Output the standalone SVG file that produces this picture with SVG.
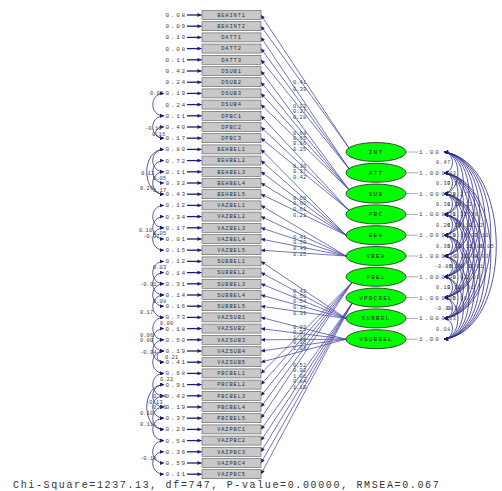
<svg xmlns="http://www.w3.org/2000/svg" xmlns:xlink="http://www.w3.org/1999/xlink" width="502" height="491" viewBox="0 0 502 491">
<defs>
<marker id="ah" viewBox="0 0 10 10" refX="10" refY="5" markerWidth="5.5" markerHeight="4" orient="auto-start-reverse" markerUnits="userSpaceOnUse"><path d="M0,0 L10,5 L0,10 z" fill="#1c1c74"/></marker>
<path id="s1" d="M444,0 C455.3,1 455.3,19.8 444,20.8"/>
<path id="s2" d="M444,0 C462.6,2 462.6,39.6 444,41.6"/>
<path id="s3" d="M444,0 C469.9,3 469.9,59.4 444,62.4"/>
<path id="s4" d="M444,0 C477.2,4 477.2,79.2 444,83.2"/>
<path id="s5" d="M444,0 C484.5,5 484.5,99 444,104"/>
<path id="s6" d="M444,0 C491.8,6 491.8,118.8 444,124.8"/>
<path id="s7" d="M444,0 C499.1,7 499.1,138.6 444,145.6"/>
<path id="s8" d="M444,0 C506.4,8 506.4,158.4 444,166.4"/>
<path id="s9" d="M444,0 C513.7,9 513.7,178.2 444,187.2"/>
</defs>
<style>
.bx{fill:#c8c8c8;stroke:#5a5a5a;stroke-width:0.6}
.bt{font-family:"Liberation Mono",monospace;font-size:5.5px;letter-spacing:0.8px;fill:#333;text-anchor:middle}
.lv{fill:#00ff00;stroke:#222;stroke-width:0.8}
.lt{font-family:"Liberation Mono",monospace;font-size:6px;letter-spacing:1.2px;fill:#222;text-anchor:middle}
.ld{stroke:#4646a6;stroke-width:0.75;fill:none;marker-end:url(#ah)}
.er{stroke:#1c1c7c;stroke-width:1.3;marker-end:url(#ah)}
.ev{font-family:"Liberation Mono",monospace;font-size:6px;letter-spacing:1.8px;fill:#444;text-anchor:end}
.nl{font-family:"Liberation Mono",monospace;font-size:5.5px;fill:#444}
.cv{stroke:#2c2c8e;stroke-width:0.8;fill:none;marker-start:url(#ah);marker-end:url(#ah)}
.cl{font-family:"Liberation Mono",monospace;font-size:5.2px;letter-spacing:0.6px;fill:#444;text-anchor:middle}
.vl{stroke:#777;stroke-width:0.6}
.ft{font-family:"Liberation Mono",monospace;font-size:10px;letter-spacing:1.63px;fill:#333}
</style>
<rect width="502" height="491" fill="#ffffff"/>

<g id="connectors">
<path class="ld" d="M349,148 L261,15"/>
<path class="ld" d="M349,148 L261,26.2"/>
<path class="ld" d="M349,168.8 L261,37.4"/>
<path class="ld" d="M349,168.8 L261,48.6"/>
<path class="ld" d="M349,168.8 L261,59.8"/>
<path class="ld" d="M349,189.6 L261,71"/>
<path class="ld" d="M349,189.6 L261,82.2"/>
<path class="ld" d="M349,189.6 L261,93.4"/>
<path class="ld" d="M349,189.6 L261,104.6"/>
<path class="ld" d="M349,210.4 L261,115.8"/>
<path class="ld" d="M349,210.4 L261,127"/>
<path class="ld" d="M349,210.4 L261,138.2"/>
<path class="ld" d="M346,235.2 L261,149.4"/>
<path class="ld" d="M346,235.2 L261,160.6"/>
<path class="ld" d="M346,235.2 L261,171.8"/>
<path class="ld" d="M346,235.2 L261,183"/>
<path class="ld" d="M346,235.2 L261,194.2"/>
<path class="ld" d="M346,256 L261,205.4"/>
<path class="ld" d="M346,256 L261,216.6"/>
<path class="ld" d="M346,256 L261,227.8"/>
<path class="ld" d="M346,256 L261,239"/>
<path class="ld" d="M346,256 L261,250.2"/>
<path class="ld" d="M346,318.4 L261,261.4"/>
<path class="ld" d="M346,318.4 L261,272.6"/>
<path class="ld" d="M346,318.4 L261,283.8"/>
<path class="ld" d="M346,318.4 L261,295"/>
<path class="ld" d="M346,318.4 L261,306.2"/>
<path class="ld" d="M346,339.2 L261,317.4"/>
<path class="ld" d="M346,339.2 L261,328.6"/>
<path class="ld" d="M346,339.2 L261,339.8"/>
<path class="ld" d="M346,339.2 L261,351"/>
<path class="ld" d="M346,339.2 L261,362.2"/>
<path class="ld" d="M352,282.5 L261,373.4"/>
<path class="ld" d="M352,282.5 L261,384.6"/>
<path class="ld" d="M352,282.5 L261,395.8"/>
<path class="ld" d="M352,282.5 L261,407"/>
<path class="ld" d="M352,282.5 L261,418.2"/>
<path class="ld" d="M352,303.3 L261,429.4"/>
<path class="ld" d="M352,303.3 L261,440.6"/>
<path class="ld" d="M352,303.3 L261,451.8"/>
<path class="ld" d="M352,303.3 L261,463"/>
<path class="ld" d="M352,303.3 L261,474.2"/>
<text class="nl" x="293" y="84">0.41</text>
<text class="nl" x="293" y="91">0.39</text>
<text class="nl" x="293" y="108">0.22</text>
<text class="nl" x="293" y="113">0.27</text>
<text class="nl" x="293" y="119">0.28</text>
<text class="nl" x="293" y="135">0.64</text>
<text class="nl" x="293" y="140">0.65</text>
<text class="nl" x="293" y="145">0.66</text>
<text class="nl" x="293" y="151">0.25</text>
<text class="nl" x="293" y="168">0.36</text>
<text class="nl" x="293" y="173">0.37</text>
<text class="nl" x="293" y="179">0.42</text>
<text class="nl" x="293" y="200">0.60</text>
<text class="nl" x="293" y="205">0.60</text>
<text class="nl" x="293" y="211">0.61</text>
<text class="nl" x="293" y="217">0.21</text>
<text class="nl" x="293" y="239">0.41</text>
<text class="nl" x="293" y="244">0.50</text>
<text class="nl" x="293" y="250">0.49</text>
<text class="nl" x="293" y="256">0.25</text>
<text class="nl" x="293" y="293">0.42</text>
<text class="nl" x="293" y="298">0.50</text>
<text class="nl" x="293" y="303">0.54</text>
<text class="nl" x="293" y="309">0.35</text>
<text class="nl" x="293" y="315">0.39</text>
<text class="nl" x="293" y="329">0.93</text>
<text class="nl" x="293" y="334">0.97</text>
<text class="nl" x="293" y="339">1.12</text>
<text class="nl" x="293" y="344">0.95</text>
<text class="nl" x="293" y="350">1.03</text>
<text class="nl" x="293" y="367">0.52</text>
<text class="nl" x="293" y="372">0.92</text>
<text class="nl" x="293" y="378">1.01</text>
<text class="nl" x="293" y="383">0.84</text>
<text class="nl" x="293" y="389">1.10</text>

<g transform="translate(0,15)"><line class="er" x1="187" x2="201.5"/><text class="ev" x="187" y="2">0.08</text></g>
<g transform="translate(0,26.2)"><line class="er" x1="187" x2="201.5"/><text class="ev" x="187" y="2">0.09</text></g>
<g transform="translate(0,37.4)"><line class="er" x1="187" x2="201.5"/><text class="ev" x="187" y="2">0.10</text></g>
<g transform="translate(0,48.6)"><line class="er" x1="187" x2="201.5"/><text class="ev" x="187" y="2">0.08</text></g>
<g transform="translate(0,59.8)"><line class="er" x1="187" x2="201.5"/><text class="ev" x="187" y="2">0.11</text></g>
<g transform="translate(0,71)"><line class="er" x1="187" x2="201.5"/><text class="ev" x="187" y="2">0.42</text></g>
<g transform="translate(0,82.2)"><line class="er" x1="187" x2="201.5"/><text class="ev" x="187" y="2">0.24</text></g>
<g transform="translate(0,93.4)"><line class="er" x1="187" x2="201.5"/><text class="ev" x="187" y="2">0.19</text></g>
<g transform="translate(0,104.6)"><line class="er" x1="187" x2="201.5"/><text class="ev" x="187" y="2">0.24</text></g>
<g transform="translate(0,115.8)"><line class="er" x1="187" x2="201.5"/><text class="ev" x="187" y="2">0.11</text></g>
<g transform="translate(0,127)"><line class="er" x1="187" x2="201.5"/><text class="ev" x="187" y="2">0.40</text></g>
<g transform="translate(0,138.2)"><line class="er" x1="187" x2="201.5"/><text class="ev" x="187" y="2">0.17</text></g>
<g transform="translate(0,149.4)"><line class="er" x1="187" x2="201.5"/><text class="ev" x="187" y="2">0.80</text></g>
<g transform="translate(0,160.6)"><line class="er" x1="187" x2="201.5"/><text class="ev" x="187" y="2">0.72</text></g>
<g transform="translate(0,171.8)"><line class="er" x1="187" x2="201.5"/><text class="ev" x="187" y="2">0.11</text></g>
<g transform="translate(0,183)"><line class="er" x1="187" x2="201.5"/><text class="ev" x="187" y="2">0.32</text></g>
<g transform="translate(0,194.2)"><line class="er" x1="187" x2="201.5"/><text class="ev" x="187" y="2">0.43</text></g>
<g transform="translate(0,205.4)"><line class="er" x1="187" x2="201.5"/><text class="ev" x="187" y="2">0.12</text></g>
<g transform="translate(0,216.6)"><line class="er" x1="187" x2="201.5"/><text class="ev" x="187" y="2">0.34</text></g>
<g transform="translate(0,227.8)"><line class="er" x1="187" x2="201.5"/><text class="ev" x="187" y="2">0.17</text></g>
<g transform="translate(0,239)"><line class="er" x1="187" x2="201.5"/><text class="ev" x="187" y="2">0.01</text></g>
<g transform="translate(0,250.2)"><line class="er" x1="187" x2="201.5"/><text class="ev" x="187" y="2">0.15</text></g>
<g transform="translate(0,261.4)"><line class="er" x1="187" x2="201.5"/><text class="ev" x="187" y="2">0.12</text></g>
<g transform="translate(0,272.6)"><line class="er" x1="187" x2="201.5"/><text class="ev" x="187" y="2">0.14</text></g>
<g transform="translate(0,283.8)"><line class="er" x1="187" x2="201.5"/><text class="ev" x="187" y="2">0.31</text></g>
<g transform="translate(0,295)"><line class="er" x1="187" x2="201.5"/><text class="ev" x="187" y="2">0.14</text></g>
<g transform="translate(0,306.2)"><line class="er" x1="187" x2="201.5"/><text class="ev" x="187" y="2">0.16</text></g>
<g transform="translate(0,317.4)"><line class="er" x1="187" x2="201.5"/><text class="ev" x="187" y="2">0.73</text></g>
<g transform="translate(0,328.6)"><line class="er" x1="187" x2="201.5"/><text class="ev" x="187" y="2">0.18</text></g>
<g transform="translate(0,339.8)"><line class="er" x1="187" x2="201.5"/><text class="ev" x="187" y="2">0.50</text></g>
<g transform="translate(0,351)"><line class="er" x1="187" x2="201.5"/><text class="ev" x="187" y="2">0.19</text></g>
<g transform="translate(0,362.2)"><line class="er" x1="187" x2="201.5"/><text class="ev" x="187" y="2">0.41</text></g>
<g transform="translate(0,373.4)"><line class="er" x1="187" x2="201.5"/><text class="ev" x="187" y="2">0.68</text></g>
<g transform="translate(0,384.6)"><line class="er" x1="187" x2="201.5"/><text class="ev" x="187" y="2">0.91</text></g>
<g transform="translate(0,395.8)"><line class="er" x1="187" x2="201.5"/><text class="ev" x="187" y="2">0.42</text></g>
<g transform="translate(0,407)"><line class="er" x1="187" x2="201.5"/><text class="ev" x="187" y="2">0.19</text></g>
<g transform="translate(0,418.2)"><line class="er" x1="187" x2="201.5"/><text class="ev" x="187" y="2">0.37</text></g>
<g transform="translate(0,429.4)"><line class="er" x1="187" x2="201.5"/><text class="ev" x="187" y="2">0.29</text></g>
<g transform="translate(0,440.6)"><line class="er" x1="187" x2="201.5"/><text class="ev" x="187" y="2">0.54</text></g>
<g transform="translate(0,451.8)"><line class="er" x1="187" x2="201.5"/><text class="ev" x="187" y="2">0.36</text></g>
<g transform="translate(0,463)"><line class="er" x1="187" x2="201.5"/><text class="ev" x="187" y="2">0.59</text></g>
<g transform="translate(0,474.2)"><line class="er" x1="187" x2="201.5"/><text class="ev" x="187" y="2">0.11</text></g>

<path class="cv" d="M164,93.4 C149,93.4 149,115.8 164,115.8"/>
<path class="cv" d="M164,115.8 C149,115.8 149,138.2 164,138.2"/>
<path class="cv" d="M164,127 C153,127 153,138.2 164,138.2"/>
<path class="cv" d="M164,149.4 C149,149.4 149,171.8 164,171.8"/>
<path class="cv" d="M164,160.6 C149,160.6 149,183 164,183"/>
<path class="cv" d="M164,149.4 C141,149.4 141,194.2 164,194.2"/>
<path class="cv" d="M164,171.8 C149,171.8 149,194.2 164,194.2"/>
<path class="cv" d="M164,205.4 C149,205.4 149,227.8 164,227.8"/>
<path class="cv" d="M164,216.6 C149,216.6 149,239 164,239"/>
<path class="cv" d="M164,227.8 C149,227.8 149,250.2 164,250.2"/>
<path class="cv" d="M164,261.4 C149,261.4 149,283.8 164,283.8"/>
<path class="cv" d="M164,272.6 C149,272.6 149,295 164,295"/>
<path class="cv" d="M164,283.8 C149,283.8 149,306.2 164,306.2"/>
<path class="cv" d="M164,295 C149,295 149,317.4 164,317.4"/>
<path class="cv" d="M164,317.4 C149,317.4 149,339.8 164,339.8"/>
<path class="cv" d="M164,328.6 C149,328.6 149,351 164,351"/>
<path class="cv" d="M164,339.8 C149,339.8 149,362.2 164,362.2"/>
<path class="cv" d="M164,351 C149,351 149,373.4 164,373.4"/>
<path class="cv" d="M164,351 C155,351 155,362.2 164,362.2"/>
<path class="cv" d="M164,373.4 C149,373.4 149,395.8 164,395.8"/>
<path class="cv" d="M164,384.6 C149,384.6 149,407 164,407"/>
<path class="cv" d="M164,395.8 C149,395.8 149,418.2 164,418.2"/>
<path class="cv" d="M164,384.6 C141,384.6 141,429.4 164,429.4"/>
<path class="cv" d="M164,407 C149,407 149,429.4 164,429.4"/>
<path class="cv" d="M164,418.2 C149,418.2 149,440.6 164,440.6"/>
<path class="cv" d="M164,440.6 C149,440.6 149,463 164,463"/>
<path class="cv" d="M164,451.8 C149,451.8 149,474.2 164,474.2"/>
<text class="nl" x="150" y="95">0.05</text>
<text class="nl" x="145" y="130">-0.16</text>
<text class="nl" x="152" y="136">0.16</text>
<text class="nl" x="141" y="175">0.12</text>
<text class="nl" x="153" y="180">0.05</text>
<text class="nl" x="140" y="190">0.29</text>
<text class="nl" x="153" y="192">0.17</text>
<text class="nl" x="139" y="232">0.10</text>
<text class="nl" x="143" y="238">-0.07</text>
<text class="nl" x="153" y="235">0.05</text>
<text class="nl" x="153" y="269">0.03</text>
<text class="nl" x="140" y="286">-0.01</text>
<text class="nl" x="153" y="303">0.08</text>
<text class="nl" x="140" y="314">0.17</text>
<text class="nl" x="160" y="325">0.00</text>
<text class="nl" x="140" y="337">0.06</text>
<text class="nl" x="140" y="342">0.00</text>
<text class="nl" x="140" y="354">-0.04</text>
<text class="nl" x="165" y="359">0.21</text>
<text class="nl" x="160" y="381">0.22</text>
<text class="nl" x="153" y="398">0.14</text>
<text class="nl" x="146" y="404">-0.13</text>
<text class="nl" x="153" y="409">0.06</text>
<text class="nl" x="140" y="415">0.10</text>
<text class="nl" x="140" y="426">0.11</text>
<text class="nl" x="140" y="460">-0.18</text>

<g transform="translate(0,152)"><line class="vl" x1="406" x2="418"/><text class="ev" x="419" y="2" style="text-anchor:start">1.00</text></g>
<g transform="translate(0,172.8)"><line class="vl" x1="406" x2="418"/><text class="ev" x="419" y="2" style="text-anchor:start">1.00</text></g>
<g transform="translate(0,193.6)"><line class="vl" x1="406" x2="418"/><text class="ev" x="419" y="2" style="text-anchor:start">1.00</text></g>
<g transform="translate(0,214.4)"><line class="vl" x1="406" x2="418"/><text class="ev" x="419" y="2" style="text-anchor:start">1.00</text></g>
<g transform="translate(0,235.2)"><line class="vl" x1="406" x2="418"/><text class="ev" x="419" y="2" style="text-anchor:start">1.00</text></g>
<g transform="translate(0,256)"><line class="vl" x1="406" x2="418"/><text class="ev" x="419" y="2" style="text-anchor:start">1.00</text></g>
<g transform="translate(0,276.8)"><line class="vl" x1="406" x2="418"/><text class="ev" x="419" y="2" style="text-anchor:start">1.00</text></g>
<g transform="translate(0,297.6)"><line class="vl" x1="406" x2="418"/><text class="ev" x="419" y="2" style="text-anchor:start">1.00</text></g>
<g transform="translate(0,318.4)"><line class="vl" x1="406" x2="418"/><text class="ev" x="419" y="2" style="text-anchor:start">1.00</text></g>
<g transform="translate(0,339.2)"><line class="vl" x1="406" x2="418"/><text class="ev" x="419" y="2" style="text-anchor:start">1.00</text></g>

<use xlink:href="#s1" class="cv" y="152"/><use xlink:href="#s1" class="cv" y="172.8"/><use xlink:href="#s1" class="cv" y="193.6"/><use xlink:href="#s1" class="cv" y="214.4"/><use xlink:href="#s1" class="cv" y="235.2"/><use xlink:href="#s1" class="cv" y="256"/><use xlink:href="#s1" class="cv" y="276.8"/><use xlink:href="#s1" class="cv" y="297.6"/><use xlink:href="#s1" class="cv" y="318.4"/>
<use xlink:href="#s2" class="cv" y="152"/><use xlink:href="#s2" class="cv" y="172.8"/><use xlink:href="#s2" class="cv" y="193.6"/><use xlink:href="#s2" class="cv" y="214.4"/><use xlink:href="#s2" class="cv" y="235.2"/><use xlink:href="#s2" class="cv" y="256"/><use xlink:href="#s2" class="cv" y="276.8"/><use xlink:href="#s2" class="cv" y="297.6"/>
<use xlink:href="#s3" class="cv" y="152"/><use xlink:href="#s3" class="cv" y="172.8"/><use xlink:href="#s3" class="cv" y="193.6"/><use xlink:href="#s3" class="cv" y="214.4"/><use xlink:href="#s3" class="cv" y="235.2"/><use xlink:href="#s3" class="cv" y="256"/><use xlink:href="#s3" class="cv" y="276.8"/>
<use xlink:href="#s4" class="cv" y="152"/><use xlink:href="#s4" class="cv" y="172.8"/><use xlink:href="#s4" class="cv" y="193.6"/><use xlink:href="#s4" class="cv" y="214.4"/><use xlink:href="#s4" class="cv" y="235.2"/><use xlink:href="#s4" class="cv" y="256"/>
<use xlink:href="#s5" class="cv" y="152"/><use xlink:href="#s5" class="cv" y="172.8"/><use xlink:href="#s5" class="cv" y="193.6"/><use xlink:href="#s5" class="cv" y="214.4"/><use xlink:href="#s5" class="cv" y="235.2"/>
<use xlink:href="#s6" class="cv" y="152"/><use xlink:href="#s6" class="cv" y="172.8"/><use xlink:href="#s6" class="cv" y="193.6"/><use xlink:href="#s6" class="cv" y="214.4"/>
<use xlink:href="#s7" class="cv" y="152"/><use xlink:href="#s7" class="cv" y="172.8"/><use xlink:href="#s7" class="cv" y="193.6"/>
<use xlink:href="#s8" class="cv" y="152"/><use xlink:href="#s8" class="cv" y="172.8"/>
<use xlink:href="#s9" class="cv" y="152"/>
<text class="cl" x="443.5" y="164.4">0.47</text><text class="cl" x="443.5" y="185.2">0.37</text><text class="cl" x="443.5" y="206">0.31</text><text class="cl" x="443.5" y="226.8">0.26</text><text class="cl" x="443.5" y="247.6">0.35</text><text class="cl" x="443.5" y="268.4">-0.05</text><text class="cl" x="443.5" y="289.2">0.12</text><text class="cl" x="443.5" y="310">-0.08</text><text class="cl" x="443.5" y="330.8">0.08</text>
<text class="cl" x="449" y="174.8">0.43</text><text class="cl" x="449" y="195.6">0.38</text><text class="cl" x="449" y="216.4">0.21</text><text class="cl" x="449" y="237.2">0.19</text><text class="cl" x="449" y="258">0.36</text><text class="cl" x="449" y="278.8">0.09</text><text class="cl" x="449" y="299.6">0.05</text><text class="cl" x="449" y="320.4">0.03</text>
<text class="cl" x="454.4" y="185.2">0.34</text><text class="cl" x="454.4" y="206">0.29</text><text class="cl" x="454.4" y="226.8">0.36</text><text class="cl" x="454.4" y="247.6">0.12</text><text class="cl" x="454.4" y="268.4">-0.04</text><text class="cl" x="454.4" y="289.2">0.02</text><text class="cl" x="454.4" y="310">0.08</text>
<text class="cl" x="460" y="195.6">0.27</text><text class="cl" x="460" y="216.4">0.32</text><text class="cl" x="460" y="237.2">0.14</text><text class="cl" x="460" y="258">-0.02</text><text class="cl" x="460" y="278.8">0.02</text><text class="cl" x="460" y="299.6">0.00</text>
<text class="cl" x="465.4" y="206">0.22</text><text class="cl" x="465.4" y="226.8">0.18</text><text class="cl" x="465.4" y="247.6">0.11</text><text class="cl" x="465.4" y="268.4">-0.01</text><text class="cl" x="465.4" y="289.2">-0.01</text>
<text class="cl" x="471" y="216.4">0.16</text><text class="cl" x="471" y="237.2">0.07</text><text class="cl" x="471" y="258">0.04</text><text class="cl" x="471" y="278.8">-0.03</text>
<text class="cl" x="476.3" y="226.8">0.12</text><text class="cl" x="476.3" y="247.6">0.06</text><text class="cl" x="476.3" y="268.4">0.01</text>
<text class="cl" x="481.8" y="237.2">0.10</text><text class="cl" x="481.8" y="258">0.03</text>
<text class="cl" x="487" y="247.6">0.05</text>
</g>

<g id="observed">
<g id="BEHINT1" transform="translate(0,15)"><rect class="bx" x="202" y="-4.5" width="59" height="9"/><text class="bt" x="231.5" y="1.8">BEHINT1</text></g>
<g id="BEHINT2" transform="translate(0,26.2)"><rect class="bx" x="202" y="-4.5" width="59" height="9"/><text class="bt" x="231.5" y="1.8">BEHINT2</text></g>
<g id="DATT1" transform="translate(0,37.4)"><rect class="bx" x="202" y="-4.5" width="59" height="9"/><text class="bt" x="231.5" y="1.8">DATT1</text></g>
<g id="DATT2" transform="translate(0,48.6)"><rect class="bx" x="202" y="-4.5" width="59" height="9"/><text class="bt" x="231.5" y="1.8">DATT2</text></g>
<g id="DATT3" transform="translate(0,59.8)"><rect class="bx" x="202" y="-4.5" width="59" height="9"/><text class="bt" x="231.5" y="1.8">DATT3</text></g>
<g id="DSUB1" transform="translate(0,71)"><rect class="bx" x="202" y="-4.5" width="59" height="9"/><text class="bt" x="231.5" y="1.8">DSUB1</text></g>
<g id="DSUB2" transform="translate(0,82.2)"><rect class="bx" x="202" y="-4.5" width="59" height="9"/><text class="bt" x="231.5" y="1.8">DSUB2</text></g>
<g id="DSUB3" transform="translate(0,93.4)"><rect class="bx" x="202" y="-4.5" width="59" height="9"/><text class="bt" x="231.5" y="1.8">DSUB3</text></g>
<g id="DSUB4" transform="translate(0,104.6)"><rect class="bx" x="202" y="-4.5" width="59" height="9"/><text class="bt" x="231.5" y="1.8">DSUB4</text></g>
<g id="DPBC1" transform="translate(0,115.8)"><rect class="bx" x="202" y="-4.5" width="59" height="9"/><text class="bt" x="231.5" y="1.8">DPBC1</text></g>
<g id="DPBC2" transform="translate(0,127)"><rect class="bx" x="202" y="-4.5" width="59" height="9"/><text class="bt" x="231.5" y="1.8">DPBC2</text></g>
<g id="DPBC3" transform="translate(0,138.2)"><rect class="bx" x="202" y="-4.5" width="59" height="9"/><text class="bt" x="231.5" y="1.8">DPBC3</text></g>
<g id="BEHBEL1" transform="translate(0,149.4)"><rect class="bx" x="202" y="-4.5" width="59" height="9"/><text class="bt" x="231.5" y="1.8">BEHBEL1</text></g>
<g id="BEHBEL2" transform="translate(0,160.6)"><rect class="bx" x="202" y="-4.5" width="59" height="9"/><text class="bt" x="231.5" y="1.8">BEHBEL2</text></g>
<g id="BEHBEL3" transform="translate(0,171.8)"><rect class="bx" x="202" y="-4.5" width="59" height="9"/><text class="bt" x="231.5" y="1.8">BEHBEL3</text></g>
<g id="BEHBEL4" transform="translate(0,183)"><rect class="bx" x="202" y="-4.5" width="59" height="9"/><text class="bt" x="231.5" y="1.8">BEHBEL4</text></g>
<g id="BEHBEL5" transform="translate(0,194.2)"><rect class="bx" x="202" y="-4.5" width="59" height="9"/><text class="bt" x="231.5" y="1.8">BEHBEL5</text></g>
<g id="VAZBEL1" transform="translate(0,205.4)"><rect class="bx" x="202" y="-4.5" width="59" height="9"/><text class="bt" x="231.5" y="1.8">VAZBEL1</text></g>
<g id="VAZBEL2" transform="translate(0,216.6)"><rect class="bx" x="202" y="-4.5" width="59" height="9"/><text class="bt" x="231.5" y="1.8">VAZBEL2</text></g>
<g id="VAZBEL3" transform="translate(0,227.8)"><rect class="bx" x="202" y="-4.5" width="59" height="9"/><text class="bt" x="231.5" y="1.8">VAZBEL3</text></g>
<g id="VAZBEL4" transform="translate(0,239)"><rect class="bx" x="202" y="-4.5" width="59" height="9"/><text class="bt" x="231.5" y="1.8">VAZBEL4</text></g>
<g id="VAZBEL5" transform="translate(0,250.2)"><rect class="bx" x="202" y="-4.5" width="59" height="9"/><text class="bt" x="231.5" y="1.8">VAZBEL5</text></g>
<g id="SUBBEL1" transform="translate(0,261.4)"><rect class="bx" x="202" y="-4.5" width="59" height="9"/><text class="bt" x="231.5" y="1.8">SUBBEL1</text></g>
<g id="SUBBEL2" transform="translate(0,272.6)"><rect class="bx" x="202" y="-4.5" width="59" height="9"/><text class="bt" x="231.5" y="1.8">SUBBEL2</text></g>
<g id="SUBBEL3" transform="translate(0,283.8)"><rect class="bx" x="202" y="-4.5" width="59" height="9"/><text class="bt" x="231.5" y="1.8">SUBBEL3</text></g>
<g id="SUBBEL4" transform="translate(0,295)"><rect class="bx" x="202" y="-4.5" width="59" height="9"/><text class="bt" x="231.5" y="1.8">SUBBEL4</text></g>
<g id="SUBBEL5" transform="translate(0,306.2)"><rect class="bx" x="202" y="-4.5" width="59" height="9"/><text class="bt" x="231.5" y="1.8">SUBBEL5</text></g>
<g id="VAZSUB1" transform="translate(0,317.4)"><rect class="bx" x="202" y="-4.5" width="59" height="9"/><text class="bt" x="231.5" y="1.8">VAZSUB1</text></g>
<g id="VAZSUB2" transform="translate(0,328.6)"><rect class="bx" x="202" y="-4.5" width="59" height="9"/><text class="bt" x="231.5" y="1.8">VAZSUB2</text></g>
<g id="VAZSUB3" transform="translate(0,339.8)"><rect class="bx" x="202" y="-4.5" width="59" height="9"/><text class="bt" x="231.5" y="1.8">VAZSUB3</text></g>
<g id="VAZSUB4" transform="translate(0,351)"><rect class="bx" x="202" y="-4.5" width="59" height="9"/><text class="bt" x="231.5" y="1.8">VAZSUB4</text></g>
<g id="VAZSUB5" transform="translate(0,362.2)"><rect class="bx" x="202" y="-4.5" width="59" height="9"/><text class="bt" x="231.5" y="1.8">VAZSUB5</text></g>
<g id="PBCBEL1" transform="translate(0,373.4)"><rect class="bx" x="202" y="-4.5" width="59" height="9"/><text class="bt" x="231.5" y="1.8">PBCBEL1</text></g>
<g id="PBCBEL2" transform="translate(0,384.6)"><rect class="bx" x="202" y="-4.5" width="59" height="9"/><text class="bt" x="231.5" y="1.8">PBCBEL2</text></g>
<g id="PBCBEL3" transform="translate(0,395.8)"><rect class="bx" x="202" y="-4.5" width="59" height="9"/><text class="bt" x="231.5" y="1.8">PBCBEL3</text></g>
<g id="PBCBEL4" transform="translate(0,407)"><rect class="bx" x="202" y="-4.5" width="59" height="9"/><text class="bt" x="231.5" y="1.8">PBCBEL4</text></g>
<g id="PBCBEL5" transform="translate(0,418.2)"><rect class="bx" x="202" y="-4.5" width="59" height="9"/><text class="bt" x="231.5" y="1.8">PBCBEL5</text></g>
<g id="VAZPBC1" transform="translate(0,429.4)"><rect class="bx" x="202" y="-4.5" width="59" height="9"/><text class="bt" x="231.5" y="1.8">VAZPBC1</text></g>
<g id="VAZPBC2" transform="translate(0,440.6)"><rect class="bx" x="202" y="-4.5" width="59" height="9"/><text class="bt" x="231.5" y="1.8">VAZPBC2</text></g>
<g id="VAZPBC3" transform="translate(0,451.8)"><rect class="bx" x="202" y="-4.5" width="59" height="9"/><text class="bt" x="231.5" y="1.8">VAZPBC3</text></g>
<g id="VAZPBC4" transform="translate(0,463)"><rect class="bx" x="202" y="-4.5" width="59" height="9"/><text class="bt" x="231.5" y="1.8">VAZPBC4</text></g>
<g id="VAZPBC5" transform="translate(0,474.2)"><rect class="bx" x="202" y="-4.5" width="59" height="9"/><text class="bt" x="231.5" y="1.8">VAZPBC5</text></g>
</g>

<g id="latent">
<g id="INT"><ellipse class="lv" cx="376" cy="152" rx="30" ry="9.5"/><text class="lt" x="376" y="154">INT</text></g>
<g id="ATT"><ellipse class="lv" cx="376" cy="172.8" rx="30" ry="9.5"/><text class="lt" x="376" y="174.8">ATT</text></g>
<g id="SUB"><ellipse class="lv" cx="376" cy="193.6" rx="30" ry="9.5"/><text class="lt" x="376" y="195.6">SUB</text></g>
<g id="PBC"><ellipse class="lv" cx="376" cy="214.4" rx="30" ry="9.5"/><text class="lt" x="376" y="216.4">PBC</text></g>
<g id="BEH"><ellipse class="lv" cx="376" cy="235.2" rx="30" ry="9.5"/><text class="lt" x="376" y="237.2">BEH</text></g>
<g id="VBEH"><ellipse class="lv" cx="376" cy="256" rx="30" ry="9.5"/><text class="lt" x="376" y="258">VBEH</text></g>
<g id="PBEL"><ellipse class="lv" cx="376" cy="276.8" rx="30" ry="9.5"/><text class="lt" x="376" y="278.8">PBEL</text></g>
<g id="VPBCBEL"><ellipse class="lv" cx="376" cy="297.6" rx="30" ry="9.5"/><text class="lt" x="376" y="299.6">VPBCBEL</text></g>
<g id="SUBBEL"><ellipse class="lv" cx="376" cy="318.4" rx="30" ry="9.5"/><text class="lt" x="376" y="320.4">SUBBEL</text></g>
<g id="VSUBBEL"><ellipse class="lv" cx="376" cy="339.2" rx="30" ry="9.5"/><text class="lt" x="376" y="341.2">VSUBBEL</text></g>
</g>

<text class="ft" x="13" y="488">Chi-Square=1237.13, df=747, P-value=0.00000, RMSEA=0.067</text>
</svg>
